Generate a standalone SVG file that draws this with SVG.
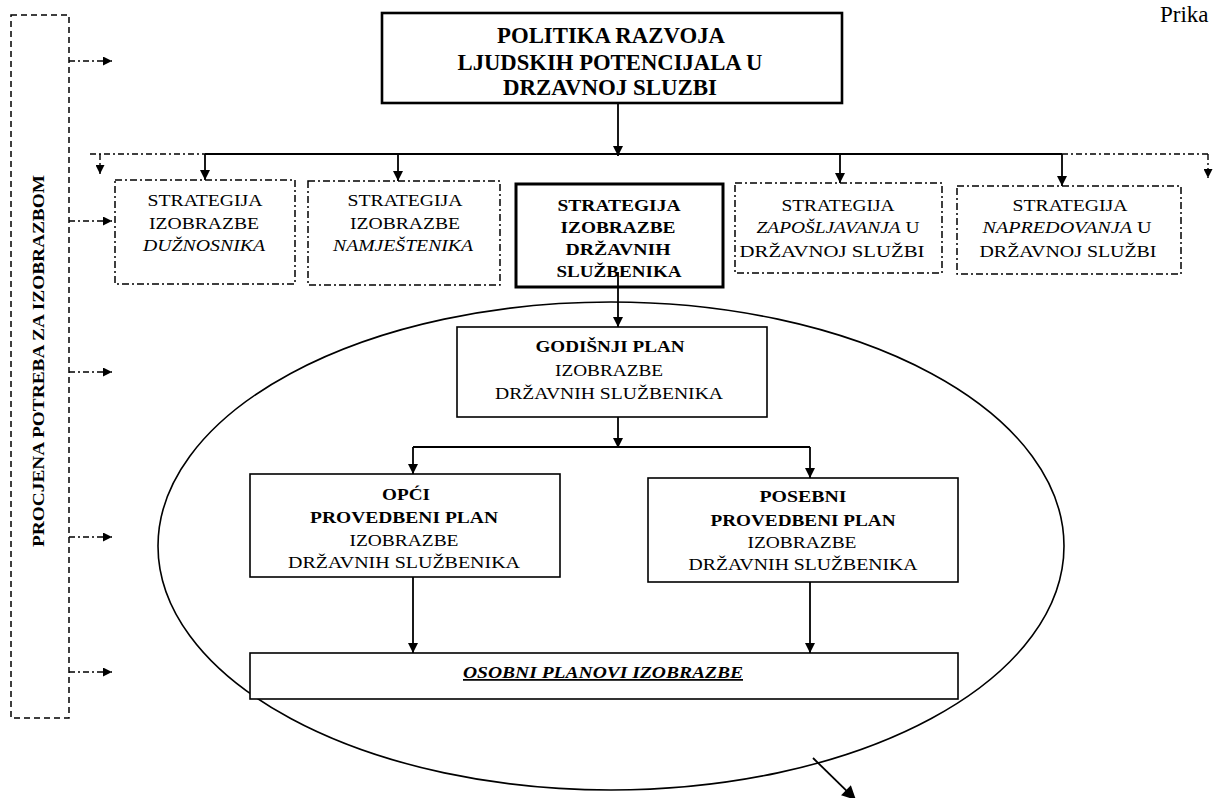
<svg xmlns="http://www.w3.org/2000/svg" width="1214" height="798" viewBox="0 0 1214 798">
<style>
text{font-family:"Liberation Serif","Times New Roman",serif;fill:#000}
.t{font-size:17.5px;text-anchor:middle}
.b{font-weight:bold}
.i{font-style:italic}
.box{fill:#fff;stroke:#000;stroke-width:1.6}
.dbox{fill:#fff;stroke:#000;stroke-width:1.5;stroke-dasharray:7,3,2,3}
.ln{fill:none;stroke:#000;stroke-width:1.8}
.dl{fill:none;stroke:#000;stroke-width:1.4;stroke-dasharray:6,3,2,3}
</style>
<defs>
<marker id="arr" markerUnits="userSpaceOnUse" markerWidth="10" markerHeight="10" viewBox="0 0 10 10" refX="10" refY="5" orient="auto">
<path d="M0,0 L10,5 L0,10 z" fill="#000"/>
</marker>
<marker id="arrs" markerUnits="userSpaceOnUse" markerWidth="9" markerHeight="9" viewBox="0 0 10 10" refX="10" refY="5" orient="auto">
<path d="M0,0 L10,5 L0,10 z" fill="#000"/>
</marker>
<marker id="arrb" markerUnits="userSpaceOnUse" markerWidth="16" markerHeight="14" viewBox="0 0 10 10" refX="10" refY="5" orient="auto">
<path d="M0,0 L10,5 L0,10 z" fill="#000"/>
</marker>
</defs>

<text x="1160" y="22" style="font-size:23px">Prika</text>

<g id="procjena">
<rect x="11" y="15" width="58" height="703" fill="none" stroke="#000" stroke-width="1.5" stroke-dasharray="6,4"/>
<text class="b" transform="translate(44,361) rotate(-90)" text-anchor="middle" style="font-size:16px" textLength="372" lengthAdjust="spacingAndGlyphs">PROCJENA POTREBA ZA IZOBRAZBOM</text>
</g>

<g id="ellipse">
<ellipse cx="611" cy="546" rx="453" ry="244" fill="none" stroke="#000" stroke-width="1.6"/>
</g>

<g id="politika">
<rect x="382" y="13" width="460" height="90" fill="#fff" stroke="#000" stroke-width="2.6"/>
<text class="t b" x="611" y="43" style="font-size:23px" textLength="228" lengthAdjust="spacingAndGlyphs">POLITIKA RAZVOJA</text>
<text class="t b" x="610" y="70" style="font-size:23px" textLength="305" lengthAdjust="spacingAndGlyphs">LJUDSKIH POTENCIJALA U</text>
<text class="t b" x="610" y="95" style="font-size:23px" textLength="214" lengthAdjust="spacingAndGlyphs">DRZAVNOJ SLUZBI</text>
</g>

<g id="duznosnika">
<rect class="dbox" x="115" y="180" width="180" height="104"/>
<text class="t" x="205" y="206" textLength="115" lengthAdjust="spacingAndGlyphs">STRATEGIJA</text>
<text class="t" x="204" y="229" textLength="110" lengthAdjust="spacingAndGlyphs">IZOBRAZBE</text>
<text class="t i" x="204" y="251" textLength="122" lengthAdjust="spacingAndGlyphs">DUŽNOSNIKA</text>
</g>

<g id="namjestenika">
<rect class="dbox" x="308" y="181" width="192" height="104"/>
<text class="t" x="405" y="206" textLength="115" lengthAdjust="spacingAndGlyphs">STRATEGIJA</text>
<text class="t" x="405" y="229" textLength="110" lengthAdjust="spacingAndGlyphs">IZOBRAZBE</text>
<text class="t i" x="403" y="251" textLength="140" lengthAdjust="spacingAndGlyphs">NAMJEŠTENIKA</text>
</g>

<g id="sluzbenika">
<rect x="516" y="184" width="207" height="103" fill="#fff" stroke="#000" stroke-width="3"/>
<text class="t b" x="619" y="211" textLength="123" lengthAdjust="spacingAndGlyphs">STRATEGIJA</text>
<text class="t b" x="618" y="233" textLength="115" lengthAdjust="spacingAndGlyphs">IZOBRAZBE</text>
<text class="t b" x="618" y="255" textLength="105" lengthAdjust="spacingAndGlyphs">DRŽAVNIH</text>
<text class="t b" x="619" y="277" textLength="125" lengthAdjust="spacingAndGlyphs">SLUŽBENIKA</text>
</g>

<g id="zaposljavanja">
<rect class="dbox" x="735" y="183" width="207" height="90"/>
<text class="t" x="838" y="211" textLength="113" lengthAdjust="spacingAndGlyphs">STRATEGIJA</text>
<text class="t" x="838" y="233" textLength="163" lengthAdjust="spacingAndGlyphs"><tspan class="i">ZAPOŠLJAVANJA</tspan> U</text>
<text class="t" x="832" y="257" textLength="185" lengthAdjust="spacingAndGlyphs">DRŽAVNOJ SLUŽBI</text>
</g>

<g id="napredovanja">
<rect class="dbox" x="957" y="186" width="224" height="88"/>
<text class="t" x="1070" y="211" textLength="115" lengthAdjust="spacingAndGlyphs">STRATEGIJA</text>
<text class="t" x="1067" y="233" textLength="169" lengthAdjust="spacingAndGlyphs"><tspan class="i">NAPREDOVANJA</tspan> U</text>
<text class="t" x="1068" y="257" textLength="177" lengthAdjust="spacingAndGlyphs">DRŽAVNOJ SLUŽBI</text>
</g>

<g id="godisnji">
<rect class="box" x="457" y="327" width="310" height="90"/>
<text class="t b" x="610" y="352" textLength="149" lengthAdjust="spacingAndGlyphs">GODIŠNJI PLAN</text>
<text class="t" x="609" y="376" textLength="108" lengthAdjust="spacingAndGlyphs">IZOBRAZBE</text>
<text class="t" x="609" y="399" textLength="228" lengthAdjust="spacingAndGlyphs">DRŽAVNIH SLUŽBENIKA</text>
</g>

<g id="opci">
<rect class="box" x="250" y="474" width="310" height="103"/>
<text class="t b" x="406" y="500" textLength="48" lengthAdjust="spacingAndGlyphs">OPĆI</text>
<text class="t b" x="404" y="523" textLength="188" lengthAdjust="spacingAndGlyphs">PROVEDBENI PLAN</text>
<text class="t" x="404" y="546" textLength="109" lengthAdjust="spacingAndGlyphs">IZOBRAZBE</text>
<text class="t" x="404" y="568" textLength="232" lengthAdjust="spacingAndGlyphs">DRŽAVNIH SLUŽBENIKA</text>
</g>

<g id="posebni">
<rect class="box" x="648" y="478" width="310" height="104"/>
<text class="t b" x="803" y="502" textLength="87" lengthAdjust="spacingAndGlyphs">POSEBNI</text>
<text class="t b" x="803" y="526" textLength="185" lengthAdjust="spacingAndGlyphs">PROVEDBENI PLAN</text>
<text class="t" x="802" y="548" textLength="109" lengthAdjust="spacingAndGlyphs">IZOBRAZBE</text>
<text class="t" x="803" y="570" textLength="229" lengthAdjust="spacingAndGlyphs">DRŽAVNIH SLUŽBENIKA</text>
</g>

<g id="osobni">
<rect class="box" x="250" y="653" width="708" height="46"/>
<text class="t b i" x="603" y="678" text-decoration="underline" textLength="280" lengthAdjust="spacingAndGlyphs">OSOBNI PLANOVI IZOBRAZBE</text>
</g>

<g id="connectors">
<line class="dl" x1="69" y1="61" x2="112" y2="61" marker-end="url(#arrs)"/>
<line class="dl" x1="69" y1="221" x2="112" y2="221" marker-end="url(#arrs)"/>
<line class="dl" x1="69" y1="372" x2="112" y2="372" marker-end="url(#arrs)"/>
<line class="dl" x1="69" y1="537" x2="112" y2="537" marker-end="url(#arrs)"/>
<line class="dl" x1="69" y1="672" x2="112" y2="672" marker-end="url(#arrs)"/>

<line class="ln" x1="618" y1="103" x2="618" y2="156" marker-end="url(#arr)"/>
<line class="ln" x1="205" y1="154" x2="1062" y2="154"/>
<line class="dl" x1="90" y1="154" x2="205" y2="154"/>
<line class="dl" x1="1062" y1="154" x2="1208" y2="154"/>
<line class="dl" x1="100" y1="154" x2="100" y2="174" marker-end="url(#arrs)"/>
<line class="dl" x1="1208" y1="154" x2="1208" y2="178" marker-end="url(#arrs)"/>
<line class="ln" x1="205" y1="154" x2="205" y2="180" marker-end="url(#arr)"/>
<line class="ln" x1="398" y1="154" x2="398" y2="181" marker-end="url(#arr)"/>
<line class="ln" x1="840" y1="154" x2="840" y2="183" marker-end="url(#arr)"/>
<line class="ln" x1="1062" y1="154" x2="1062" y2="186" marker-end="url(#arr)"/>

<line class="ln" x1="618" y1="272" x2="618" y2="327" marker-end="url(#arr)"/>
<line class="ln" x1="618" y1="417" x2="618" y2="448" marker-end="url(#arr)"/>
<line class="ln" x1="413" y1="447" x2="810" y2="447"/>
<line class="ln" x1="413" y1="447" x2="413" y2="474" marker-end="url(#arr)"/>
<line class="ln" x1="810" y1="447" x2="810" y2="478" marker-end="url(#arr)"/>
<line class="ln" x1="413" y1="577" x2="413" y2="653" marker-end="url(#arr)"/>
<line class="ln" x1="810" y1="582" x2="810" y2="653" marker-end="url(#arr)"/>

<line class="ln" x1="813" y1="758" x2="856" y2="800" marker-end="url(#arrb)"/>
</g>
</svg>
